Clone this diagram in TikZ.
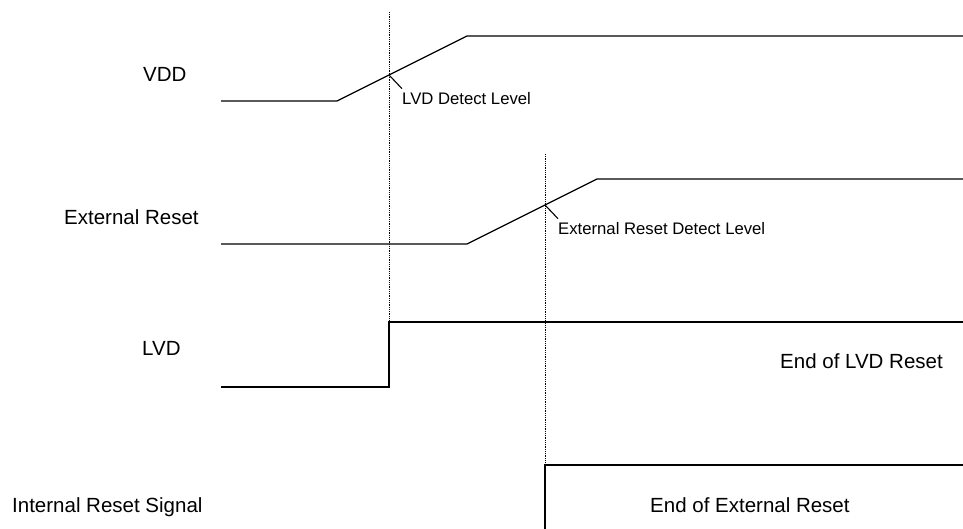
\documentclass[tikz,border=0pt]{standalone}
\usepackage{fontspec}
\setmainfont{Liberation Sans}
\usetikzlibrary{positioning,calc}

\begin{document}
\begin{tikzpicture}[x=1pt,y=-1pt]
  \tikzstyle{signal}=[line width=1.3pt,line join=miter]
  \tikzstyle{marker}=[densely dotted,line width=0.8pt]
  \tikzstyle{leader}=[line width=1.1pt]
  \tikzstyle{signame}=[font=\fontsize{20.5}{24}\selectfont,inner sep=0pt,anchor=base west]
  \tikzstyle{levelnote}=[font=\fontsize{16.7}{20}\selectfont,inner sep=0pt,anchor=base west]
  \useasboundingbox (0,0) rectangle (963,529);

  % waveform corners
  \coordinate (v0) at (221,101);
  \coordinate (v1) at (337,101);
  \coordinate (v2) at (467,36);
  \coordinate (v3) at (963,36);

  \coordinate (e0) at (221,244);
  \coordinate (e1) at (467,244);
  \coordinate (e2) at (597,179);
  \coordinate (e3) at (963,179);

  \coordinate (l0) at (221,387);
  \coordinate (l1) at (389,387);
  \coordinate (l2) at (389,322);
  \coordinate (l3) at (963,322);

  \coordinate (r0) at (545,529);
  \coordinate (r1) at (545,465);
  \coordinate (r2) at (963,465);

  \coordinate (lvdx) at ($(v1)!0.4!(v2)$);
  \coordinate (extx) at ($(e1)!0.6!(e2)$);
  \coordinate (t1) at (389,12);
  \coordinate (t2) at (545,154);

  % signal names
  \draw (143,82) node[signame] (vdd){VDD};
  \draw (64,225) node[signame] (ext){External Reset};
  \draw (142,355) node[signame] (lvd){LVD};
  \draw (12,512) node[signame] (irs){Internal Reset Signal};
  \draw (780,368) node[signame] (endlvd){End of LVD Reset};
  \draw (650,512) node[signame] (endext){End of External Reset};

  \draw (402,105) node[levelnote] (lvdnote){LVD Detect Level};
  \draw (558,235) node[levelnote] (extnote){External Reset Detect Level};
  \coordinate (lvdtip) at ($(lvdnote.north west)+(0,-4)$);
  \coordinate (exttip) at ($(extnote.north west)+(0,-4)$);

  \draw[marker] (t1) -- (l1);
  \draw[marker] (t2) -- (r0);

  \draw[signal] (v0) -- (v1) -- (v2) -- (v3);
  \draw[signal] (e0) -- (e1) -- (e2) -- (e3);
  \draw[signal] (l0) -- (l1) -- (l2) -- (l3);
  \draw[signal] (r0) -- (r1) -- (r2);

  \draw[leader] (lvdx) -- (lvdtip);
  \draw[leader] (extx) -- (exttip);
\end{tikzpicture}
\end{document}
